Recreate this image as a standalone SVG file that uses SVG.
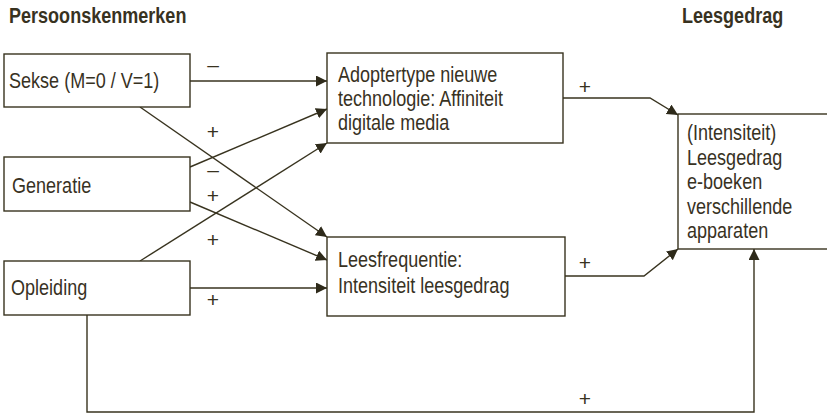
<svg xmlns="http://www.w3.org/2000/svg" width="827" height="414" viewBox="0 0 827 414">
<style>
  .box { fill: #ffffff; stroke: #38331f; stroke-width: 1.4; }
  .t { font-family: 'Liberation Sans', Arial, sans-serif; font-size: 22px; fill: #38321f; }
  .h { font-family: 'Liberation Sans', Arial, sans-serif; font-size: 22px; font-weight: bold; fill: #38321f; }
  .lbl { font-family: 'Liberation Sans', Arial, sans-serif; font-size: 21px; fill: #38321f; text-anchor: middle; }
  .c { fill: none; stroke: #38331f; stroke-width: 1.4; }
</style>
<defs>
  <marker id="arr" markerUnits="userSpaceOnUse" markerWidth="12" markerHeight="12" refX="11" refY="5.5" orient="auto">
    <path d="M0,0 L11,5.5 L0,11 z" fill="#2e2a1a"/>
  </marker>
</defs>
<rect width="827" height="414" fill="#ffffff"/>
<g id="headers">
  <text class="h" transform="translate(9,23) scale(0.82,1)">Persoonskenmerken</text>
  <text class="h" transform="translate(682,23) scale(0.82,1)">Leesgedrag</text>
</g>
<g id="connectors">
  <path class="c" d="M190,81 H327" marker-end="url(#arr)"/>
  <path class="c" d="M140,107 L327,237" marker-end="url(#arr)"/>
  <path class="c" d="M190,167 L327,109" marker-end="url(#arr)"/>
  <path class="c" d="M190,202 L327,260" marker-end="url(#arr)"/>
  <path class="c" d="M140,261 L327,143" marker-end="url(#arr)"/>
  <path class="c" d="M190,288 H327" marker-end="url(#arr)"/>
  <path class="c" d="M563,98 H650 L678,115" marker-end="url(#arr)"/>
  <path class="c" d="M565,276 H644 L678,249" marker-end="url(#arr)"/>
  <path class="c" d="M87,315 V412 H754 V249" marker-end="url(#arr)"/>
  <text class="lbl" x="213" y="72">–</text>
  <text class="lbl" x="213" y="139">+</text>
  <text class="lbl" x="213" y="177">–</text>
  <text class="lbl" x="213" y="203">+</text>
  <text class="lbl" x="213" y="247">+</text>
  <text class="lbl" x="213" y="307">+</text>
  <text class="lbl" x="585" y="94">+</text>
  <text class="lbl" x="585" y="270">+</text>
  <text class="lbl" x="585" y="406">+</text>
</g>
<g id="sekse">
  <rect class="box" x="4" y="54" width="186" height="53"/>
  <text class="t" transform="translate(9,88) scale(0.82,1)">Sekse (M=0 / V=1)</text>
</g>
<g id="generatie">
  <rect class="box" x="4" y="157" width="186" height="54"/>
  <text class="t" transform="translate(12,193) scale(0.82,1)">Generatie</text>
</g>
<g id="opleiding">
  <rect class="box" x="4" y="261" width="186" height="54"/>
  <text class="t" transform="translate(11,295) scale(0.82,1)">Opleiding</text>
</g>
<g id="adoptertype">
  <rect class="box" x="327" y="53" width="236" height="90"/>
  <text class="t" transform="translate(338,82) scale(0.82,1)">Adoptertype nieuwe</text>
  <text class="t" transform="translate(338,106) scale(0.82,1)">technologie: Affiniteit</text>
  <text class="t" transform="translate(338,130) scale(0.82,1)">digitale media</text>
</g>
<g id="leesfrequentie">
  <rect class="box" x="327" y="237" width="238" height="79"/>
  <text class="t" transform="translate(338,267) scale(0.82,1)">Leesfrequentie:</text>
  <text class="t" transform="translate(338,293) scale(0.82,1)">Intensiteit leesgedrag</text>
</g>
<g id="leesgedrag">
  <rect class="box" x="678" y="114" width="160" height="135"/>
  <text class="t" transform="translate(687,140) scale(0.82,1)">(Intensiteit)</text>
  <text class="t" transform="translate(687,164.5) scale(0.82,1)">Leesgedrag</text>
  <text class="t" transform="translate(687,189) scale(0.82,1)">e-boeken</text>
  <text class="t" transform="translate(687,213.5) scale(0.82,1)">verschillende</text>
  <text class="t" transform="translate(687,238) scale(0.82,1)">apparaten</text>
</g>
</svg>
